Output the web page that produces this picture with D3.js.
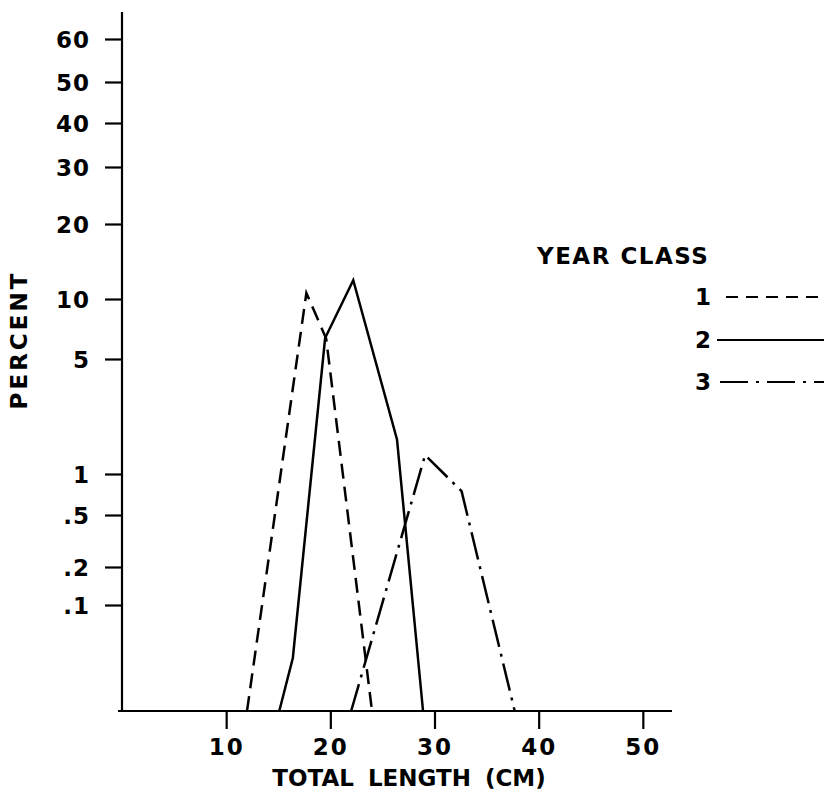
<!DOCTYPE html>
<html>
<head>
<meta charset="UTF-8">
<title>Year class length distribution</title>
<script src="https://cdn.jsdelivr.net/npm/d3@7"></script>
<style>
  body { margin: 0; background: #fff; }
  svg text {
    font-family: "DejaVu Sans", sans-serif;
    font-weight: bold;
    fill: #000;
  }
  .axis path, .axis line { stroke: #000; stroke-width: 2.2; }
</style>
</head>
<body>
<svg id="chart" width="829" height="810"></svg>
<script>
// year classes shown in the legend
var yearClasses = ["1", "2", "3"];

// total length (cm) and percent at each vertex, per year class
var class1Length  = [12.0, 17.7, 19.6, 24.0];
var class1Percent = [0, 10.8, 6.7, 0];

var class2Length  = [15.1, 16.4, 19.5, 22.2, 26.4, 28.9];
var class2Percent = [0, 0.05, 6.75, 12.5, 2.2, 0];

var class3Length  = [22.0, 29.1, 32.6, 37.7];
var class3Percent = [0, 1.66, 0.79, 0];

// axis ticks
var xTicks = [10, 20, 30, 40, 50];
var yTicks = [60, 50, 40, 30, 20, 10, 5, 1, 0.5, 0.2, 0.1];
var yTickLabels = ["60", "50", "40", "30", "20", "10", "5", "1", ".5", ".2", ".1"];

var svg = d3.select("#chart");

var x = d3.scaleLinear().domain([0, 52.8]).range([122, 672]);

// the printed percent axis is spaced by hand, so map it piece by piece
var y = d3.scaleLinear()
    .domain([0, 0.1, 0.2, 0.5, 1, 5, 10, 20, 30, 40, 50, 60])
    .range([711, 605, 567, 515, 474, 359, 299, 224, 167, 123, 82, 39]);

// y axis
svg.append("line")
    .attr("x1", x(0)).attr("x2", x(0))
    .attr("y1", 12).attr("y2", y(0))
    .attr("stroke", "#000").attr("stroke-width", 2.2);

var yAxis = svg.append("g")
    .attr("class", "axis")
    .attr("transform", "translate(" + x(0) + ",0)")
    .call(d3.axisLeft(y).tickValues(yTicks).tickSize(17).tickPadding(15)
        .tickFormat(function(d, i) { return yTickLabels[i]; }));
yAxis.select(".domain").remove();
yAxis.selectAll("text")
    .style("font-size", "23px")
    .style("letter-spacing", "1px")
    .attr("dy", "0.36em");

// x axis
var xAxis = svg.append("g")
    .attr("class", "axis")
    .attr("transform", "translate(0," + y(0) + ")")
    .call(d3.axisBottom(x).tickValues(xTicks).tickSize(18).tickPadding(6).tickSizeOuter(0));
xAxis.select(".domain").attr("d", "M118,0H672");
xAxis.selectAll("text")
    .style("font-size", "23px")
    .style("letter-spacing", "2px")
    .attr("dy", "0.88em");

// axis titles
svg.append("text")
    .attr("transform", "translate(27,340) rotate(-90)")
    .attr("text-anchor", "middle")
    .style("font-size", "23px")
    .style("letter-spacing", "3px")
    .text("PERCENT");

svg.append("text")
    .attr("x", 409).attr("y", 786)
    .attr("text-anchor", "middle")
    .style("font-size", "23px")
    .style("word-spacing", "6px")
    .text("TOTAL LENGTH (CM)");

// series
var series = [
  { name: yearClasses[0], len: class1Length, pct: class1Percent, dash: "15,8" },
  { name: yearClasses[1], len: class2Length, pct: class2Percent, dash: null },
  { name: yearClasses[2], len: class3Length, pct: class3Percent, dash: "28,7,3,7" }
];

var line = d3.line()
    .x(function(d) { return x(d[0]); })
    .y(function(d) { return y(d[1]); });

svg.selectAll(".series")
    .data(series)
    .enter()
    .append("path")
    .attr("class", "series")
    .attr("d", function(s) { return line(d3.zip(s.len, s.pct)); })
    .attr("fill", "none")
    .attr("stroke", "#000")
    .attr("stroke-width", 2.5)
    .attr("stroke-dasharray", function(s) { return s.dash; });

// legend
svg.append("text")
    .attr("x", 537).attr("y", 264)
    .style("font-size", "23px")
    .style("letter-spacing", "1.5px")
    .text("YEAR CLASS");

var legendY = [297, 340, 382];
var legendX1 = [726, 717, 720];
var legendDash = ["12,8", null, "28,8,3,8"];

var legend = svg.selectAll(".legend")
    .data(series)
    .enter()
    .append("g")
    .attr("class", "legend");

legend.append("text")
    .attr("x", 711)
    .attr("y", function(s, i) { return legendY[i]; })
    .attr("dy", "0.36em")
    .attr("text-anchor", "end")
    .style("font-size", "23px")
    .text(function(s) { return s.name; });

legend.append("line")
    .attr("x1", function(s, i) { return legendX1[i]; })
    .attr("x2", 824)
    .attr("y1", function(s, i) { return legendY[i]; })
    .attr("y2", function(s, i) { return legendY[i]; })
    .attr("stroke", "#000")
    .attr("stroke-width", 2)
    .attr("stroke-dasharray", function(s, i) { return legendDash[i]; });
</script>
</body>
</html>
